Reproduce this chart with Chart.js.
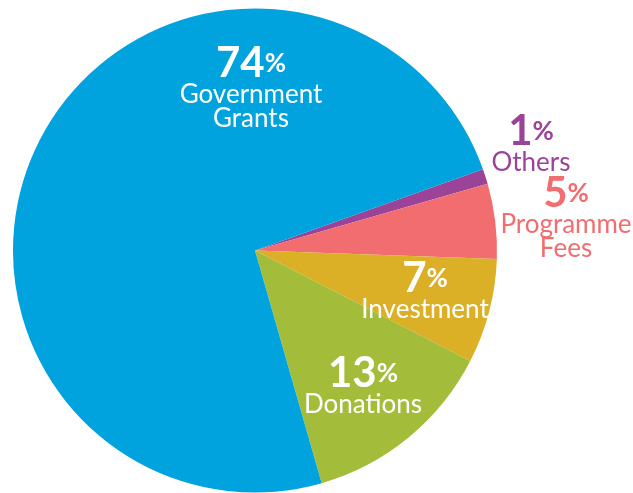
<!DOCTYPE html>
<html>
<head>
<meta charset="utf-8">
<script src="https://cdn.jsdelivr.net/npm/chart.js@4"></script>
<style>
  html, body { margin: 0; padding: 0; background: #ffffff; }
  #wrap { width: 633px; height: 493px; position: relative; }
</style>
</head>
<body>
<div id="wrap"><canvas id="incomeChart"></canvas></div>
<script>
// income sources, clockwise from the small purple slice
const categories = ["Others", "Programme Fees", "Investment", "Donations", "Government Grants"];
const shares = [1, 5, 7, 13, 74];
const labelLines = [["Others"], ["Programme", "Fees"], ["Investment"], ["Donations"], ["Government", "Grants"]];
const sliceColours = ["#9a4399", "#f26d70", "#dbb026", "#a3bd3a", "#00a3dd"];

// where each label block sits, as offsets from the pie centre (px)
const labelSpots = [
  { dx: 276, dy: -106, outside: true },
  { dx: 311, dy: -44, outside: true },
  { dx: 170, dy: 41, outside: false },
  { dx: 108, dy: 136, outside: false },
  { dx: -4, dy: -174, outside: false },
];

const numFont = "bold 42px Lato";
const pctFont = "bold 26px Lato";
const textFont = "26px Lato";

const sliceLabels = {
  id: "sliceLabels",
  afterDatasetsDraw(chart) {
    const ctx = chart.ctx;
    const arcs = chart.getDatasetMeta(0).data;
    const cx = arcs[0].x, cy = arcs[0].y;
    ctx.save();
    ctx.textBaseline = "alphabetic";
    shares.forEach(function (v, i) {
      const spot = labelSpots[i];
      const colour = spot.outside ? sliceColours[i] : "#ffffff";
      const x = cx + spot.dx, y = cy + spot.dy;
      ctx.fillStyle = colour;

      // big number with a smaller raised percent sign
      ctx.font = numFont;
      const numW = ctx.measureText(String(v)).width;
      ctx.font = pctFont;
      const pctW = ctx.measureText("%").width;
      let left = x - (numW + pctW) / 2;
      ctx.textAlign = "left";
      ctx.font = numFont;
      ctx.fillText(String(v), left, y);
      ctx.font = pctFont;
      ctx.fillText("%", left + numW, y - 5);

      ctx.textAlign = "center";
      ctx.font = textFont;
      labelLines[i].forEach(function (line, k) {
        ctx.fillText(line, x, y + 26 + k * 24);
      });
    });
    ctx.restore();
  },
};

const incomeChart = new Chart("incomeChart", {
  type: "pie",
  data: {
    labels: categories,
    datasets: [
      {
        data: shares,
        backgroundColor: sliceColours,
        borderWidth: 0,
      },
    ],
  },
  options: {
    responsive: true,
    maintainAspectRatio: false,
    animation: false,
    rotation: 70.4,
    layout: {
      padding: { left: 13, right: 136, top: 8, bottom: 0 },
    },
    plugins: {
      legend: { display: false },
      tooltip: { enabled: false },
    },
  },
  plugins: [sliceLabels],
});
</script>
</body>
</html>
